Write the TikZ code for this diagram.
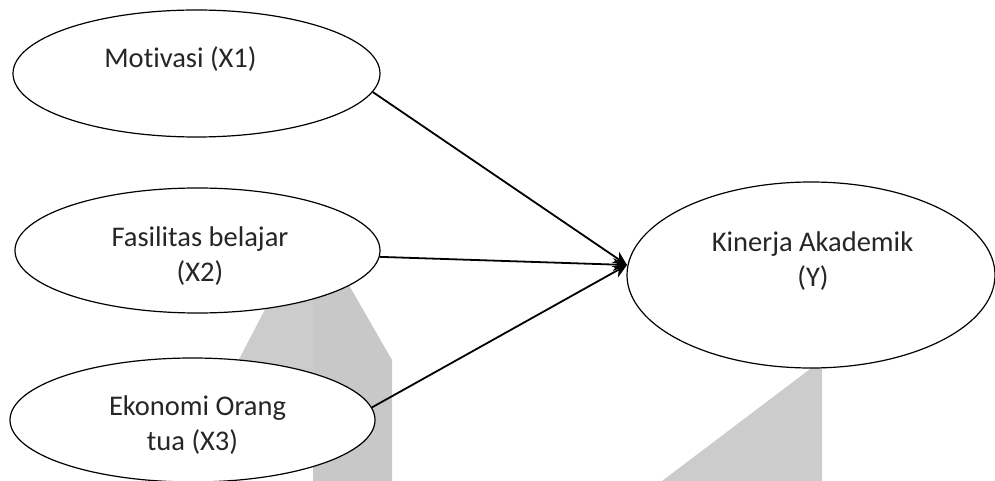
\documentclass[tikz,border=0pt]{standalone}
\usepackage{fontspec}
\setmainfont{Carlito}[RawFeature={-liga}]
\usetikzlibrary{arrows.meta,shapes.geometric}
\definecolor{shadeA}{RGB}{204,204,204}
\definecolor{shadeB}{RGB}{200,200,200}
\definecolor{txt}{RGB}{38,38,38}
\tikzset{
  oval/.style={ellipse, draw=black, fill=white, line width=1.2pt, inner sep=0pt},
  lbl/.style={anchor=base, inner sep=0pt, text=txt, font=\fontsize{28.5}{34}\selectfont},
  conn/.style={line width=1.8pt, -{Stealth[length=14pt,width=13pt]}}
}
\begin{document}
\begin{tikzpicture}[x=1pt,y=-1pt]
\useasboundingbox (0,0) rectangle (995,481);
% gray background shapes
\fill[shadeA] (236,365) -- (272,296) -- (313,290) -- (313,400) -- (236,400) -- cycle;
\fill[shadeB] (313,290) -- (346,280) -- (392,360) -- (392,481) -- (313,481) -- cycle;
\fill[shadeA] (822,360) -- (822,481) -- (662,481) -- cycle;
% ellipses
\node[oval, minimum width=367pt, minimum height=127pt] (x1) at (196.5,73.5) {};
\node[oval, minimum width=365pt, minimum height=125pt] (x2) at (197.5,250.5) {};
\node[oval, minimum width=365pt, minimum height=124pt] (x3) at (192.5,420) {};
\node[oval, minimum width=368pt, minimum height=186pt] (y) at (811,275) {};
% labels
\node[lbl] (t1) at (180.5,68) {Motivasi (X1)};
\node[lbl] (t2a) at (200,246) {Fasilitas belajar};
\node[lbl] (t2b) at (200,281) {(X2)};
\node[lbl] (t3a) at (197.5,415) {Ekonomi Orang};
\node[lbl] (t3b) at (192.5,450) {tua (X3)};
\node[lbl] (tya) at (812.5,251) {Kinerja Akademik};
\node[lbl] (tyb) at (813,286) {(Y)};
% connectors
\coordinate (tip) at (627,265);
\draw[conn] (x1.-6.5) -- (tip);
\draw[conn] (x2.-2) -- (tip);
\draw[conn] (x3.4) -- (tip);
\end{tikzpicture}
\end{document}
